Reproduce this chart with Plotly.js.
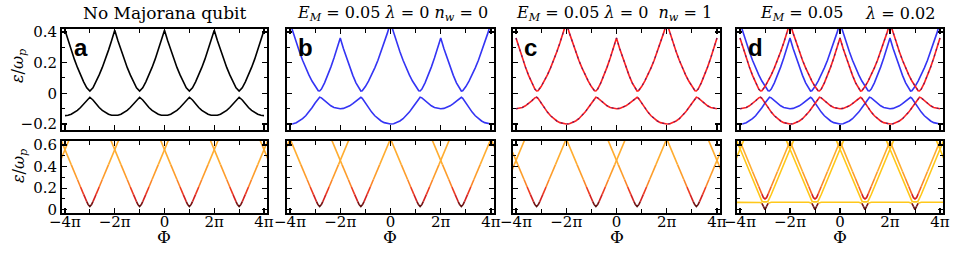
<!DOCTYPE html>
<html><head><meta charset="utf-8">
<script src="https://cdn.plot.ly/plotly-3.0.1.min.js"></script>
<style>html,body{margin:0;padding:0;background:#fff}#chart{width:959px;height:254px}</style>
</head><body><div id="chart"></div>
<script>
// ---------- DATA (Phi in units of pi) ----------
const xTickVals = [-4, -2, 0, 2, 4];
const xTickText = ['\u22124\u03C0', '\u22122\u03C0', '0', '2\u03C0', '4\u03C0'];
const xMinorVals = [-3, -1, 1, 3];

// Panel a (no Majorana qubit), top
const phiA = [-4,-3.875,-3.75,-3.625,-3.5,-3.375,-3.25,-3.125,-3,-2.875,-2.75,-2.625,-2.5,-2.375,-2.25,-2.125,-2,-1.875,-1.75,-1.625,-1.5,-1.375,-1.25,-1.125,-1,-0.875,-0.75,-0.625,-0.5,-0.375,-0.25,-0.125,0,0.125,0.25,0.375,0.5,0.625,0.75,0.875,1,1.125,1.25,1.375,1.5,1.625,1.75,1.875,2,2.125,2.25,2.375,2.5,2.625,2.75,2.875,3,3.125,3.25,3.375,3.5,3.625,3.75,3.875,4];
const topA_lower = [-0.146,-0.144,-0.137,-0.127,-0.112,-0.093,-0.070,-0.044,-0.026,-0.044,-0.070,-0.093,-0.112,-0.127,-0.137,-0.144,-0.146,-0.144,-0.137,-0.127,-0.112,-0.093,-0.070,-0.044,-0.026,-0.044,-0.070,-0.093,-0.112,-0.127,-0.137,-0.144,-0.146,-0.144,-0.137,-0.127,-0.112,-0.093,-0.070,-0.044,-0.026,-0.044,-0.070,-0.093,-0.112,-0.127,-0.137,-0.144,-0.146,-0.144,-0.137,-0.127,-0.112,-0.093,-0.070,-0.044,-0.026,-0.044,-0.070,-0.093,-0.112,-0.127,-0.137,-0.144,-0.146];
const topA_upper = [0.412,0.345,0.282,0.223,0.169,0.120,0.075,0.036,0.014,0.036,0.075,0.120,0.169,0.223,0.282,0.345,0.412,0.345,0.282,0.223,0.169,0.120,0.075,0.036,0.014,0.036,0.075,0.120,0.169,0.223,0.282,0.345,0.412,0.345,0.282,0.223,0.169,0.120,0.075,0.036,0.014,0.036,0.075,0.120,0.169,0.223,0.282,0.345,0.412,0.345,0.282,0.223,0.169,0.120,0.075,0.036,0.014,0.036,0.075,0.120,0.169,0.223,0.282,0.345,0.412];

// Panel b (n_w = 0), top  (also blue curves of panel d)
const phiB = [-4,-3.875,-3.75,-3.625,-3.5,-3.375,-3.25,-3.125,-3,-2.875,-2.82,-2.75,-2.625,-2.5,-2.375,-2.25,-2.125,-2,-1.875,-1.75,-1.625,-1.5,-1.375,-1.25,-1.18,-1.125,-1,-0.875,-0.75,-0.625,-0.5,-0.375,-0.25,-0.125,0,0.125,0.25,0.375,0.5,0.625,0.75,0.875,1,1.125,1.18,1.25,1.375,1.5,1.625,1.75,1.875,2,2.125,2.25,2.375,2.5,2.625,2.75,2.82,2.875,3,3.125,3.25,3.375,3.5,3.625,3.75,3.875,4];
const topB_lower = [-0.201,-0.199,-0.192,-0.181,-0.166,-0.147,-0.123,-0.095,-0.064,-0.033,-0.026,-0.030,-0.049,-0.067,-0.082,-0.093,-0.099,-0.101,-0.099,-0.093,-0.082,-0.067,-0.049,-0.030,-0.026,-0.033,-0.064,-0.095,-0.123,-0.147,-0.166,-0.181,-0.192,-0.199,-0.201,-0.199,-0.192,-0.181,-0.166,-0.147,-0.123,-0.095,-0.064,-0.033,-0.026,-0.030,-0.049,-0.067,-0.082,-0.093,-0.099,-0.101,-0.099,-0.093,-0.082,-0.067,-0.049,-0.030,-0.026,-0.033,-0.064,-0.095,-0.123,-0.147,-0.166,-0.181,-0.192,-0.199,-0.201];
const topB_upper = [0.461,0.393,0.330,0.271,0.216,0.166,0.120,0.080,0.044,0.017,0.015,0.027,0.068,0.117,0.171,0.230,0.293,0.361,0.293,0.230,0.171,0.117,0.068,0.027,0.015,0.017,0.044,0.080,0.120,0.166,0.216,0.271,0.330,0.393,0.461,0.393,0.330,0.271,0.216,0.166,0.120,0.080,0.044,0.017,0.015,0.027,0.068,0.117,0.171,0.230,0.293,0.361,0.293,0.230,0.171,0.117,0.068,0.027,0.015,0.017,0.044,0.080,0.120,0.166,0.216,0.271,0.330,0.393,0.461];

// Panel c (n_w = 1), top  (also red curves of panel d)
const phiC = [-4,-3.875,-3.75,-3.625,-3.5,-3.375,-3.25,-3.18,-3.125,-3,-2.875,-2.75,-2.625,-2.5,-2.375,-2.25,-2.125,-2,-1.875,-1.75,-1.625,-1.5,-1.375,-1.25,-1.125,-1,-0.875,-0.82,-0.75,-0.625,-0.5,-0.375,-0.25,-0.125,0,0.125,0.25,0.375,0.5,0.625,0.75,0.82,0.875,1,1.125,1.25,1.375,1.5,1.625,1.75,1.875,2,2.125,2.25,2.375,2.5,2.625,2.75,2.875,3,3.125,3.18,3.25,3.375,3.5,3.625,3.75,3.875,4];
const topC_lower = [-0.101,-0.099,-0.093,-0.082,-0.067,-0.049,-0.030,-0.026,-0.033,-0.064,-0.095,-0.123,-0.147,-0.166,-0.181,-0.192,-0.199,-0.201,-0.199,-0.192,-0.181,-0.166,-0.147,-0.123,-0.095,-0.064,-0.033,-0.026,-0.030,-0.049,-0.067,-0.082,-0.093,-0.099,-0.101,-0.099,-0.093,-0.082,-0.067,-0.049,-0.030,-0.026,-0.033,-0.064,-0.095,-0.123,-0.147,-0.166,-0.181,-0.192,-0.199,-0.201,-0.199,-0.192,-0.181,-0.166,-0.147,-0.123,-0.095,-0.064,-0.033,-0.026,-0.030,-0.049,-0.067,-0.082,-0.093,-0.099,-0.101];
const topC_upper = [0.361,0.293,0.230,0.171,0.117,0.068,0.027,0.015,0.017,0.044,0.080,0.120,0.166,0.216,0.271,0.330,0.393,0.461,0.393,0.330,0.271,0.216,0.166,0.120,0.080,0.044,0.017,0.015,0.027,0.068,0.117,0.171,0.230,0.293,0.361,0.293,0.230,0.171,0.117,0.068,0.027,0.015,0.017,0.044,0.080,0.120,0.166,0.216,0.271,0.330,0.393,0.461,0.393,0.330,0.271,0.216,0.166,0.120,0.080,0.044,0.017,0.015,0.027,0.068,0.117,0.171,0.230,0.293,0.361];

// Bottom row: transition energies (two families of V-shaped branches)
const botV_famA_y = [1.113,0.557,0.418,0.280,0.211,0.142,0.076,0.046,0.030,0.046,0.076,0.142,0.211,0.280,0.418,0.557,1.113,0.557,0.418,0.280,0.211,0.142,0.076,0.046,0.030,0.046,0.076,0.142,0.211,0.280,0.418,0.557,1.113,0.557,0.418,0.280];
const botV_famB_y = [0.280,0.418,0.557,1.113,0.557,0.418,0.280,0.211,0.142,0.076,0.046,0.030,0.046,0.076,0.142,0.211,0.280,0.418,0.557,1.113,0.557,0.418,0.280,0.211,0.142,0.076,0.046,0.030,0.046,0.076,0.142,0.211,0.280,0.418,0.557,1.113];
const botA_famA_x = [-5,-4,-3.75,-3.5,-3.375,-3.25,-3.125,-3.0625,-3,-2.9375,-2.875,-2.75,-2.625,-2.5,-2.25,-2,-1,0,0.25,0.5,0.625,0.75,0.875,0.9375,1,1.0625,1.125,1.25,1.375,1.5,1.75,2,3,4,4.25,4.5];
const botA_famB_x = [-4.5,-4.25,-4,-3,-2,-1.75,-1.5,-1.375,-1.25,-1.125,-1.0625,-1,-0.9375,-0.875,-0.75,-0.625,-0.5,-0.25,0,1,2,2.25,2.5,2.625,2.75,2.875,2.9375,3,3.0625,3.125,3.25,3.375,3.5,3.75,4,5];
const botB_famA_x = [-4.82,-3.82,-3.57,-3.32,-3.195,-3.07,-2.945,-2.8825,-2.82,-2.7575,-2.695,-2.57,-2.445,-2.32,-2.07,-1.82,-0.82,0.18,0.43,0.68,0.805,0.93,1.055,1.1175,1.18,1.2425,1.305,1.43,1.555,1.68,1.93,2.18,3.18,4.18,4.43,4.68];
const botB_famB_x = [-4.68,-4.43,-4.18,-3.18,-2.18,-1.93,-1.68,-1.555,-1.43,-1.305,-1.2425,-1.18,-1.1175,-1.055,-0.93,-0.805,-0.68,-0.43,-0.18,0.82,1.82,2.07,2.32,2.445,2.57,2.695,2.7575,2.82,2.8825,2.945,3.07,3.195,3.32,3.57,3.82,4.82];
const botC_famA_x = [-5.18,-4.18,-3.93,-3.68,-3.555,-3.43,-3.305,-3.2425,-3.18,-3.1175,-3.055,-2.93,-2.805,-2.68,-2.43,-2.18,-1.18,-0.18,0.07,0.32,0.445,0.57,0.695,0.7575,0.82,0.8825,0.945,1.07,1.195,1.32,1.57,1.82,2.82,3.82,4.07,4.32];
const botC_famB_x = [-4.32,-4.07,-3.82,-2.82,-1.82,-1.57,-1.32,-1.195,-1.07,-0.945,-0.8825,-0.82,-0.7575,-0.695,-0.57,-0.445,-0.32,-0.07,0.18,1.18,2.18,2.43,2.68,2.805,2.93,3.055,3.1175,3.18,3.2425,3.305,3.43,3.555,3.68,3.93,4.18,5.18];

// Panel d bottom
const botD_orange_x = [-4.25,-4,-3.75,-3.5,-3.375,-3.25,-3.125,-3.0625,-3,-2.9375,-2.875,-2.75,-2.625,-2.5,-2.25,-2,-1.75,-1.5,-1.375,-1.25,-1.125,-1.0625,-1,-0.9375,-0.875,-0.75,-0.625,-0.5,-0.25,0,0.25,0.5,0.625,0.75,0.875,0.9375,1,1.0625,1.125,1.25,1.375,1.5,1.75,2,2.25,2.5,2.625,2.75,2.875,2.9375,3,3.0625,3.125,3.25,3.375,3.5,3.75,4,4.25];
const botD_orange_y = [0.775,0.635,0.495,0.355,0.285,0.215,0.145,0.112,0.100,0.112,0.145,0.215,0.285,0.355,0.495,0.635,0.495,0.355,0.285,0.215,0.145,0.112,0.100,0.112,0.145,0.215,0.285,0.355,0.495,0.635,0.495,0.355,0.285,0.215,0.145,0.112,0.100,0.112,0.145,0.215,0.285,0.355,0.495,0.635,0.495,0.355,0.285,0.215,0.145,0.112,0.100,0.112,0.145,0.215,0.285,0.355,0.495,0.635,0.775];
const botD_yelA_x = [-5,-4,-3.75,-3.5,-3.375,-3.25,-3.1875,-3.125,-3.0625,-3,-2.9375,-2.875,-2.8125,-2.75,-2.625,-2.5,-2.25,-2,-1,0,0.25,0.5,0.625,0.75,0.8125,0.875,0.9375,1,1.0625,1.125,1.1875,1.25,1.375,1.5,1.75,2,3,4,4.25,4.5];
const botD_yelA_y = [1.12,0.56,0.42,0.28,0.211,0.141,0.108,0.080,0.073,0.071,0.073,0.080,0.108,0.141,0.211,0.28,0.42,0.56,1.12,0.56,0.42,0.28,0.211,0.141,0.108,0.080,0.073,0.071,0.073,0.080,0.108,0.141,0.211,0.28,0.42,0.56,1.12,0.56,0.42,0.28];
const botD_yelB_x = [-4.5,-4.25,-4,-3,-2,-1.75,-1.5,-1.375,-1.25,-1.1875,-1.125,-1.0625,-1,-0.9375,-0.875,-0.8125,-0.75,-0.625,-0.5,-0.25,0,1,2,2.25,2.5,2.625,2.75,2.8125,2.875,2.9375,3,3.0625,3.125,3.1875,3.25,3.375,3.5,3.75,4,5];
const botD_yelB_y = [0.28,0.42,0.56,1.12,0.56,0.42,0.28,0.211,0.141,0.108,0.080,0.073,0.071,0.073,0.080,0.108,0.141,0.211,0.28,0.42,0.56,1.12,0.56,0.42,0.28,0.211,0.141,0.108,0.080,0.073,0.071,0.073,0.080,0.108,0.141,0.211,0.28,0.42,0.56,1.12];
const botD_flat_x = [-4.2,-3.25,-3.1875,-3.125,-3.0625,-3,-2.9375,-2.875,-2.8125,-2.75,-1.25,-1.1875,-1.125,-1.0625,-1,-0.9375,-0.875,-0.8125,-0.75,0.75,0.8125,0.875,0.9375,1,1.0625,1.125,1.1875,1.25,2.75,2.8125,2.875,2.9375,3,3.0625,3.125,3.1875,3.25,4.2];
const botD_flat_y = [0.069,0.069,0.067,0.060,0.032,0.000,0.032,0.060,0.067,0.069,0.069,0.067,0.060,0.032,0.000,0.032,0.060,0.067,0.069,0.069,0.067,0.060,0.032,0.000,0.032,0.060,0.067,0.069,0.069,0.067,0.060,0.032,0.000,0.032,0.060,0.067,0.069,0.069];

// ---------- STYLE ----------
const SERIF = 'DejaVu Serif';
const BLACK = '#000000', BLUE = '#3434f4', RED = '#ff2020', DASH = 'rgba(80,25,110,0.85)', YEL = '#ffc81a';
const LW = 1.6;

function heat(y) {
  if (y < 0.04) return '#5a0c0c';
  if (y < 0.07) return '#7e1010';
  if (y < 0.10) return '#a81616';
  if (y < 0.14) return '#d42020';
  if (y < 0.18) return '#ee3b20';
  if (y < 0.23) return '#f86222';
  if (y < 0.30) return '#fb8526';
  if (y < 0.40) return '#fd9d2a';
  return '#ffad30';
}
const yellowOnly = () => YEL;
const flatColor = (y) => (y < 0.062 ? heat(y) : YEL);

const traces = [];
function line(x, y, n, color, dash, width) {
  traces.push({x: x, y: y, xaxis: 'x' + n, yaxis: 'y' + n, type: 'scatter', mode: 'lines',
    line: {color: color, width: width || LW, dash: dash || 'solid'}, hoverinfo: 'skip', showlegend: false});
}
function colored(x, y, n, colorFn) {
  const groups = {}; const order = [];
  let cur = null;
  for (let i = 0; i < x.length - 1; i++) {
    const c = colorFn((y[i] + y[i + 1]) / 2);
    if (!groups[c]) { groups[c] = {x: [], y: []}; order.push(c); }
    if (c !== cur) {
      if (groups[c].x.length) { groups[c].x.push(null); groups[c].y.push(null); }
      groups[c].x.push(x[i]); groups[c].y.push(y[i]);
      cur = c;
    }
    groups[c].x.push(x[i + 1]); groups[c].y.push(y[i + 1]);
  }
  order.forEach(c => line(groups[c].x, groups[c].y, n, c, 'solid', LW));
}

// top row
line(phiA, topA_lower, 1, BLACK); line(phiA, topA_upper, 1, BLACK);
line(phiB, topB_lower, 3, BLUE); line(phiB, topB_upper, 3, BLUE);
line(phiC, topC_lower, 5, RED); line(phiC, topC_upper, 5, RED);
line(phiC, topC_lower, 5, DASH, '2px,4px', 1.2); line(phiC, topC_upper, 5, DASH, '2px,4px', 1.2);
line(phiB, topB_lower, 7, BLUE); line(phiB, topB_upper, 7, BLUE);
line(phiC, topC_lower, 7, RED); line(phiC, topC_upper, 7, RED);
line(phiC, topC_lower, 7, DASH, '2px,4px', 1.2); line(phiC, topC_upper, 7, DASH, '2px,4px', 1.2);

// bottom row
colored(botA_famA_x, botV_famA_y, 2, heat); colored(botA_famB_x, botV_famB_y, 2, heat);
colored(botB_famA_x, botV_famA_y, 4, heat); colored(botB_famB_x, botV_famB_y, 4, heat);
colored(botC_famA_x, botV_famA_y, 6, heat); colored(botC_famB_x, botV_famB_y, 6, heat);
colored(botD_flat_x, botD_flat_y, 8, flatColor);
colored(botD_yelA_x, botD_yelA_y, 8, yellowOnly); colored(botD_yelB_x, botD_yelB_y, 8, yellowOnly);
colored(botD_orange_x, botD_orange_y, 8, heat);

// ---------- LAYOUT ----------
const W = 959, H = 254;
const cols = [[62, 267], [287, 494], [513, 720], [737, 943]];
const rows = {top: [29, 130], bot: [141, 213]};
const px = v => v / W, py = v => 1 - v / H;

const layout = {width: W, height: H, margin: {l: 0, r: 0, t: 0, b: 0},
  paper_bgcolor: '#fff', plot_bgcolor: '#fff', showlegend: false, annotations: []};

function axisBase() {
  return {showline: true, linewidth: 2, linecolor: '#000', mirror: 'allticks', ticks: 'inside',
    ticklen: 5, tickwidth: 1.3, tickcolor: '#000', zeroline: false, showgrid: false, fixedrange: true,
    tickfont: {family: SERIF, size: 15, color: '#000'}};
}
cols.forEach((c, i) => {
  ['top', 'bot'].forEach((r, j) => {
    const n = 2 * i + 1 + j;
    const xa = Object.assign(axisBase(), {
      domain: [px(c[0]), px(c[1])], range: [-4.12, 4.12], anchor: 'y' + n,
      tickmode: 'array', tickvals: xTickVals, ticktext: xTickText, showticklabels: r === 'bot',
      ticklabelstandoff: -6,
      minor: {tickmode: 'array', tickvals: xMinorVals, ticks: 'inside', ticklen: 4, tickwidth: 1, tickcolor: '#000'}
    });
    const ya = Object.assign(axisBase(), {
      domain: [py(rows[r][1]), py(rows[r][0])], anchor: 'x' + n,
      range: r === 'top' ? [-0.24, 0.42] : [-0.03, 0.637],
      tickmode: 'linear', tick0: 0, dtick: 0.2, showticklabels: i === 0,
      minor: {dtick: 0.1, ticks: 'inside', ticklen: 3, tickwidth: 1, tickcolor: '#000'}
    });
    layout['xaxis' + (n === 1 ? '' : n)] = xa;
    layout['yaxis' + (n === 1 ? '' : n)] = ya;
  });
});

function ann(text, x, y, size, extra) {
  layout.annotations.push(Object.assign({text: text, x: x, y: y, xref: 'paper', yref: 'paper',
    showarrow: false, xanchor: 'center', yanchor: 'middle',
    font: {family: SERIF, size: size, color: '#000'}}, extra || {}));
}
const EM = '<i>E</i><sub><i>M</i></sub> = 0.05';
ann('No Majorana qubit', px(164), py(13), 17);
ann(EM + ' <i>\u03BB</i> = 0 <i>n</i><sub><i>w</i></sub> = 0', px(392), py(13), 16);
ann(EM + ' <i>\u03BB</i> = 0  <i>n</i><sub><i>w</i></sub> = 1', px(614), py(13), 16);
ann(EM, px(801), py(13), 16);
ann('<i>\u03BB</i> = 0.02', px(900), py(13), 16);
ann('<i>\u03B5</i>/<i>\u03C9</i><sub><i>p</i></sub>', px(18), py(66), 16, {textangle: -90});
ann('<i>\u03B5</i>/<i>\u03C9</i><sub><i>p</i></sub>', px(19), py(166), 16, {textangle: -90});
[164, 390, 617, 840].forEach(x => ann('\u03A6', px(x), py(237), 17));
[['a', 72], ['b', 296], ['c', 522], ['d', 746]].forEach(l =>
  ann('<b>' + l[0] + '</b>', px(l[1]), py(47), 24, {xanchor: 'left', font: {family: 'Liberation Sans', size: 24, color: '#000'}}));

Plotly.newPlot('chart', traces, layout, {staticPlot: true, displayModeBar: false});
</script></body></html>
